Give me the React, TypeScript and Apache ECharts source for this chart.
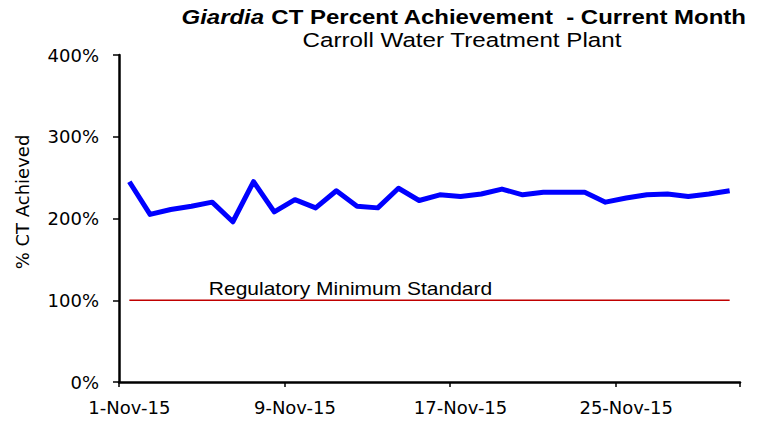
import React, { useEffect, useRef } from "react";
import * as echarts from "echarts";

const days: string[] = [
  "1-Nov-15", "2-Nov-15", "3-Nov-15", "4-Nov-15", "5-Nov-15", "6-Nov-15",
  "7-Nov-15", "8-Nov-15", "9-Nov-15", "10-Nov-15", "11-Nov-15", "12-Nov-15",
  "13-Nov-15", "14-Nov-15", "15-Nov-15", "16-Nov-15", "17-Nov-15", "18-Nov-15",
  "19-Nov-15", "20-Nov-15", "21-Nov-15", "22-Nov-15", "23-Nov-15", "24-Nov-15",
  "25-Nov-15", "26-Nov-15", "27-Nov-15", "28-Nov-15", "29-Nov-15", "30-Nov-15",
];

const ctAchieved: number[] = [
  245, 205, 211, 215, 220, 196, 245, 208, 223, 213,
  234, 215, 213, 237, 222, 229, 227, 230, 236, 229,
  232, 232, 232, 220, 225, 229, 230, 227, 230, 234,
];

const regulatoryMinimum: number[] = days.map(() => 100);

const yTicks = { min: 0, max: 400, interval: 100 };

const axisFont = "DejaVu Sans";
const titleFont = "'Liberation Sans', Arial, sans-serif";

export default function App() {
  const ref = useRef<HTMLDivElement>(null);

  useEffect(() => {
    if (!ref.current) return;
    const chart = echarts.init(ref.current, undefined, { renderer: "svg" });
    chart.setOption({
      animation: false,
      backgroundColor: "#ffffff",
      grid: { left: 119, right: 25, top: 55, bottom: 39, containLabel: false },
      xAxis: {
        type: "category",
        data: days,
        boundaryGap: true,
        axisLine: { show: true, lineStyle: { color: "#000", width: 2.5 } },
        axisTick: { show: true, interval: 7, alignWithLabel: false, length: 5, lineStyle: { color: "#000", width: 1.5 } },
        axisLabel: { interval: 7, margin: 16, color: "#000", fontSize: 18, fontFamily: axisFont },
        splitLine: { show: false },
      },
      yAxis: {
        type: "value",
        min: yTicks.min,
        max: yTicks.max,
        interval: yTicks.interval,
        axisLine: { show: true, lineStyle: { color: "#000", width: 2.5 } },
        axisTick: { show: true, length: 6, lineStyle: { color: "#000", width: 1.5 } },
        axisLabel: { formatter: "{value}%", margin: 20, color: "#000", fontSize: 18, fontFamily: axisFont },
        splitLine: { show: false },
      },
      series: [
        {
          type: "line",
          data: regulatoryMinimum,
          symbol: "none",
          lineStyle: { color: "#C00000", width: 1.5 },
          z: 2,
        },
        {
          type: "line",
          data: ctAchieved,
          symbol: "none",
          lineStyle: { color: "#0000FF", width: 5, join: "round" },
          z: 3,
        },
      ],
      graphic: [
        {
          type: "text",
          x: 464,
          y: 17.5,
          scaleX: 1.23,
          style: {
            text: "{i|Giardia} {b|CT Percent Achievement  - Current Month}",
            textAlign: "center",
            textVerticalAlign: "middle",
            rich: {
              i: { fontStyle: "italic", fontWeight: "bold", fontSize: 19.5, fontFamily: titleFont, fill: "#000" },
              b: { fontWeight: "bold", fontSize: 19.5, fontFamily: titleFont, fill: "#000" },
            },
            fontSize: 19.5,
            fontWeight: "bold",
            fontFamily: titleFont,
            fill: "#000",
          },
        },
        {
          type: "text",
          x: 462,
          y: 40,
          scaleX: 1.24,
          style: {
            text: "Carroll Water Treatment Plant",
            textAlign: "center",
            textVerticalAlign: "middle",
            fontSize: 19.5,
            fontFamily: titleFont,
            fill: "#000",
          },
        },
        {
          type: "text",
          x: 350.5,
          y: 289.5,
          scaleX: 1.2,
          style: {
            text: "Regulatory Minimum Standard",
            textAlign: "center",
            textVerticalAlign: "middle",
            fontSize: 17.5,
            fontFamily: titleFont,
            fill: "#000",
          },
        },
        {
          type: "text",
          x: 22,
          y: 202,
          rotation: Math.PI / 2,
          style: {
            text: "% CT Achieved",
            textAlign: "center",
            textVerticalAlign: "middle",
            fontSize: 18,
            fontFamily: axisFont,
            fill: "#000",
          },
        },
      ],
    });
    return () => chart.dispose();
  }, []);

  return <div ref={ref} style={{ width: 765, height: 421, position: "absolute", left: 0, top: 0 }} />;
}
